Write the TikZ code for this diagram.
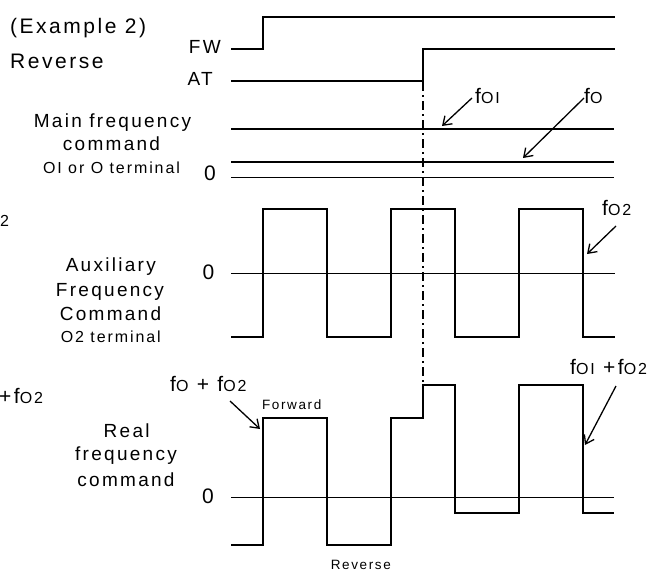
\documentclass[tikz,border=0pt]{standalone}
\usepackage{fontspec}
\setmainfont{Liberation Sans}[LetterSpace=12]
\usetikzlibrary{arrows.meta}
\newcommand\subf[1]{{\fontsize{16}{16}\selectfont #1}}
\begin{document}
\begin{tikzpicture}[x=1pt,y=-1pt,
 sig/.style={line width=1.9pt, line join=miter},
 zero/.style={line width=1pt},
 lbl/.style={inner sep=0pt, font=\fontsize{19}{21}\selectfont},
 big/.style={inner sep=0pt, font=\fontsize{21}{23}\selectfont},
 small/.style={inner sep=0pt, font=\fontsize{16}{18}\selectfont},
 tiny/.style={inner sep=0pt, font=\fontsize{13.5}{15}\selectfont},
 ptr/.style={line width=1.3pt, -{Straight Barb[length=8pt,width=11pt,line width=1.3pt]}},
 dashdot/.style={line width=1.7pt, dash pattern=on 9pt off 4pt on 2pt off 4pt}]
\useasboundingbox (0,0) rectangle (662,573);

% ---- left labels
\node[big, anchor=base west] (ex) at (10,33.3) {(Example 2)};
\node[big, anchor=base west] (rev) at (10,68.3) {Reverse};
\node[lbl, anchor=base east] (fw) at (221,53.3) {FW};
\node[lbl, anchor=base east] (at) at (213,85) {AT};
\node[lbl, anchor=base] (m1) at (112.5,127.7) {Main frequency};
\node[lbl, anchor=base] (m2) at (111.5,150) {command};
\node[small, anchor=base] (m3) at (111.5,173.3) {OI or O terminal};
\node[big, anchor=base] (z1) at (210,180) {0};
\node[small, anchor=base] (two) at (4.5,226.7) {2};
\node[lbl, anchor=base] (a1) at (110.8,271.7) {Auxiliary};
\node[lbl, anchor=base] (a2) at (110,296.7) {Frequency};
\node[lbl, anchor=base] (a3) at (110.5,320) {Command};
\node[small, anchor=base] (a4) at (110.8,342.7) {O2 terminal};
\node[big, anchor=base] (z2) at (208.5,279.3) {0};
\node[lbl, anchor=base] (r1) at (126.7,437.3) {Real};
\node[lbl, anchor=base] (r2) at (126,460.7) {frequency};
\node[lbl, anchor=base] (r3) at (126,486) {command};
\node[big, anchor=base] (z3) at (208,503.3) {0};
\node[big, anchor=base west] (pf) at (-1,403.3) {+f\subf{O2}};

% ---- waveforms
\draw[sig] (231,49.3) -- (262.7,49.3) -- (262.7,16.7) -- (615,16.7);
\draw[sig] (231,81) -- (422.7,81) -- (422.7,49.3) -- (615,49.3);
\draw[sig] (231,129.3) -- (614,129.3);
\draw[sig] (231,161.7) -- (614,161.7);
\draw[zero] (231,177.3) -- (614,177.3);
\draw[dashdot] (422.7,82) -- (422.7,385);

\draw[zero] (231,273.3) -- (615,273.3);
\draw[sig] (231,337.3) -- (262.7,337.3) -- (262.7,209.3) -- (326.7,209.3) -- (326.7,337.3)
  -- (390.7,337.3) -- (390.7,209.3) -- (455,209.3) -- (455,337.3) -- (519,337.3)
  -- (519,209.3) -- (583,209.3) -- (583,337.3) -- (615,337.3);

\draw[zero] (231,497.3) -- (614,497.3);
\draw[sig] (231,545) -- (262.7,545) -- (262.7,418.3) -- (326.7,418.3) -- (326.7,545)
  -- (390.7,545) -- (390.7,418.3) -- (422.7,418.3) -- (422.7,385.3) -- (455,385.3)
  -- (455,513.3) -- (518.7,513.3) -- (518.7,385.3) -- (583,385.3) -- (583,513.3) -- (614,513.3);

% ---- value labels and pointers
\node[big, anchor=base west] (foi) at (475,103.3) {f\subf{OI}};
\node[big, anchor=base west] (fo) at (584,103.3) {f\subf{O}};
\node[big, anchor=base west] (fo2) at (602,215) {f\subf{O2}};
\node[big, anchor=base west] (fsum) at (170,391) {f\subf{O} + f\subf{O2}};
\node[big, anchor=base west] (fisum) at (570,374.3) {f\subf{OI} +f\subf{O2}};
\node[tiny, anchor=base] (fwd) at (291.7,409.3) {Forward};
\node[tiny, anchor=base] (rv) at (360.8,569.3) {Reverse};

\coordinate (s1) at (472,98);   \coordinate (t1) at (442,126);
\coordinate (s2) at (584,98);   \coordinate (t2) at (523,158);
\coordinate (s3) at (616,226);  \coordinate (t3) at (587,254);
\coordinate (s4) at (230,401);  \coordinate (t4) at (260,429);
\coordinate (s5) at (616,386);  \coordinate (t5) at (585,445);
\draw[ptr] (s1) -- (t1);
\draw[ptr] (s2) -- (t2);
\draw[ptr] (s3) -- (t3);
\draw[ptr] (s4) -- (t4);
\draw[ptr] (s5) -- (t5);
\end{tikzpicture}
\end{document}
